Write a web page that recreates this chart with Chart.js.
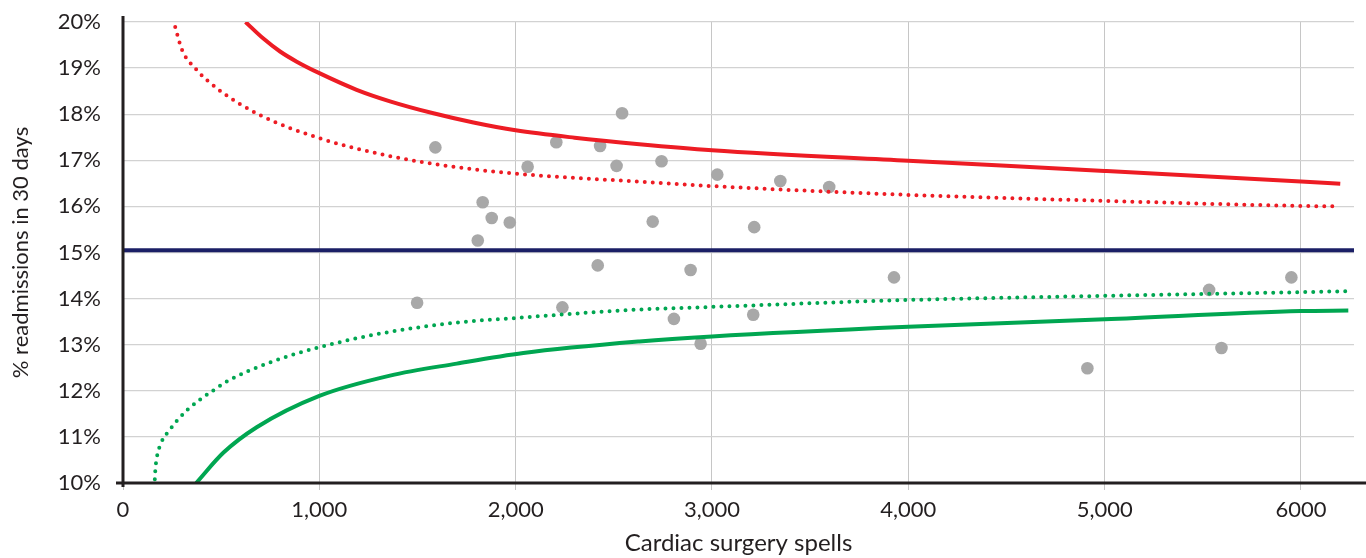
<html>
  <head>
    <script src="https://cdn.jsdelivr.net/npm/chart.js"></script>
    <style>
      body { margin: 0; background: #fff; }
      #wrap { width: 1366px; height: 558px; }
    </style>
  </head>
  <body>
    <div id="wrap"><canvas id="myChart"></canvas></div>
    <script>
      // trusts: cardiac surgery spells vs % readmitted within 30 days
      const spells = [1498, 1591, 1807, 1832, 1878, 1970, 2061, 2207, 2238, 2418, 2430, 2514, 2542, 2698,
        2743, 2806, 2891, 2942, 3027, 3210, 3215, 3348, 3597, 3927, 4912, 5532, 5595, 5951]
      const readmitPct = [13.91, 17.28, 15.26, 16.09, 15.75, 15.65, 16.86, 17.39, 13.81, 14.72, 17.31, 16.88, 18.02, 15.67,
        16.98, 13.56, 14.62, 13.02, 16.69, 13.65, 15.55, 16.55, 16.42, 14.46, 12.49, 14.19, 12.93, 14.46]

      const meanPct = 15.05

      // control limits
      const upper998X = [624, 715, 800, 885, 1000, 1190, 1360, 1581, 1785, 2000, 2300, 2630, 3000, 4000, 5000, 6000, 6200]
      const upper998Y = [20.0, 19.64, 19.36, 19.14, 18.89, 18.53, 18.28, 18.02, 17.82, 17.65, 17.49, 17.35, 17.22, 16.99, 16.77, 16.54, 16.49]
      const upper95X = [266, 300, 371, 491, 698, 1000, 1360, 1717, 2002, 2613, 3000, 4000, 5000, 6000, 6189]
      const upper95Y = [19.89, 19.40, 18.98, 18.52, 17.98, 17.48, 17.09, 16.84, 16.71, 16.54, 16.44, 16.25, 16.12, 16.01, 16.0]
      const lower95X = [162, 165, 171, 180, 192, 207, 232, 277, 334, 396, 464, 537, 758, 987, 1309, 1700, 2002, 2613, 3000, 4000, 5000, 6000, 6228]
      const lower95Y = [10.08, 10.3, 10.52, 10.7, 10.85, 10.98, 11.12, 11.36, 11.61, 11.82, 12.02, 12.22, 12.63, 12.93, 13.24, 13.48, 13.58, 13.76, 13.82, 13.97, 14.06, 14.14, 14.16]
      const lower998X = [373, 512, 681, 1000, 1360, 1700, 2039, 2630, 3000, 4000, 5000, 6000, 6241]
      const lower998Y = [10.0, 10.66, 11.21, 11.89, 12.33, 12.59, 12.82, 13.07, 13.18, 13.39, 13.55, 13.73, 13.74]

      const xTickLabels = ["0", "1,000", "2,000", "3,000", "4,000", "5,000", "6000"]
      const xMax = 6270

      const toXY = (xs, ys) => xs.map((x, i) => ({ x: x, y: ys[i] }))

      const RED = "#ed1c24"
      const GREEN = "#00a651"
      const NAVY = "#1b1f66"
      const INK = "#231f20"

      const datasets = [
        { label: "Upper 99.8%", data: toXY(upper998X, upper998Y), borderColor: RED, borderWidth: 4 },
        { label: "Upper 95%", data: toXY(upper95X, upper95Y), borderColor: RED, borderWidth: 4, borderDash: [0, 8], borderCapStyle: "round" },
        { label: "Mean", data: [{ x: 0, y: meanPct }, { x: xMax, y: meanPct }], borderColor: NAVY, borderWidth: 4 },
        { label: "Lower 95%", data: toXY(lower95X, lower95Y), borderColor: GREEN, borderWidth: 4, borderDash: [0, 8], borderCapStyle: "round" },
        { label: "Lower 99.8%", data: toXY(lower998X, lower998Y), borderColor: GREEN, borderWidth: 4 }
      ].map(function (d) {
        return Object.assign({ showLine: true, pointRadius: 0, cubicInterpolationMode: "monotone", fill: false }, d)
      })

      datasets.push({
        label: "Trusts",
        data: toXY(spells, readmitPct),
        showLine: false,
        pointRadius: 6.3,
        pointBackgroundColor: "#a8a8a8",
        pointBorderWidth: 0,
        backgroundColor: "#a8a8a8"
      })

      // axis lines drawn a bit past the plot like the original
      const axisLines = {
        id: "axisLines",
        afterDatasetsDraw(chart) {
          const { ctx, chartArea } = chart
          ctx.save()
          ctx.strokeStyle = INK
          ctx.lineWidth = 3
          ctx.beginPath()
          ctx.moveTo(chartArea.left, chartArea.top - 6)
          ctx.lineTo(chartArea.left, chartArea.bottom + 4)
          ctx.moveTo(chartArea.left - 7, chartArea.bottom)
          ctx.lineTo(chart.width, chartArea.bottom)
          ctx.stroke()
          ctx.restore()
        }
      }

      Chart.defaults.font.family = "Lato"
      Chart.defaults.color = INK

      new Chart(document.getElementById("myChart"), {
        type: "scatter",
        data: { datasets: datasets },
        options: {
          responsive: true,
          maintainAspectRatio: false,
          animation: false,
          layout: { padding: { top: 22, right: 12, left: 0, bottom: 0 } },
          plugins: { legend: { display: false }, tooltip: { enabled: false } },
          scales: {
            x: {
              type: "linear",
              min: 0,
              max: xMax,
              afterFit: function (s) {
                s.height = 75
                s.paddingLeft = 0
                s.paddingRight = 0
              },
              afterBuildTicks: function (s) {
                s.ticks = xTickLabels.map((t, i) => ({ value: i * 1000 }))
              },
              ticks: {
                font: { size: 22 },
                padding: 7,
                maxRotation: 0,
                callback: function (v) { return xTickLabels[Math.round(v / 1000)] }
              },
              grid: { color: "#c6c6c6", lineWidth: 1, drawTicks: true, tickLength: 7 },
              border: { display: false },
              title: { display: true, text: "Cardiac surgery spells", font: { size: 24 }, padding: { top: 0, bottom: 0 } }
            },
            y: {
              min: 10,
              max: 20,
              afterFit: function (s) {
                s.width = 123
                s.paddingTop = 0
                s.paddingBottom = 0
              },
              ticks: {
                stepSize: 1,
                font: { size: 22 },
                padding: 22,
                callback: function (v) { return v + "%" }
              },
              grid: { color: "#d2d2d2", lineWidth: 1.3, drawTicks: false },
              border: { display: false },
              title: { display: true, text: "% readmissions in 30 days", font: { size: 22 }, padding: { top: 8, bottom: 0 } }
            }
          }
        },
        plugins: [axisLines]
      })
    </script>
  </body>
</html>
